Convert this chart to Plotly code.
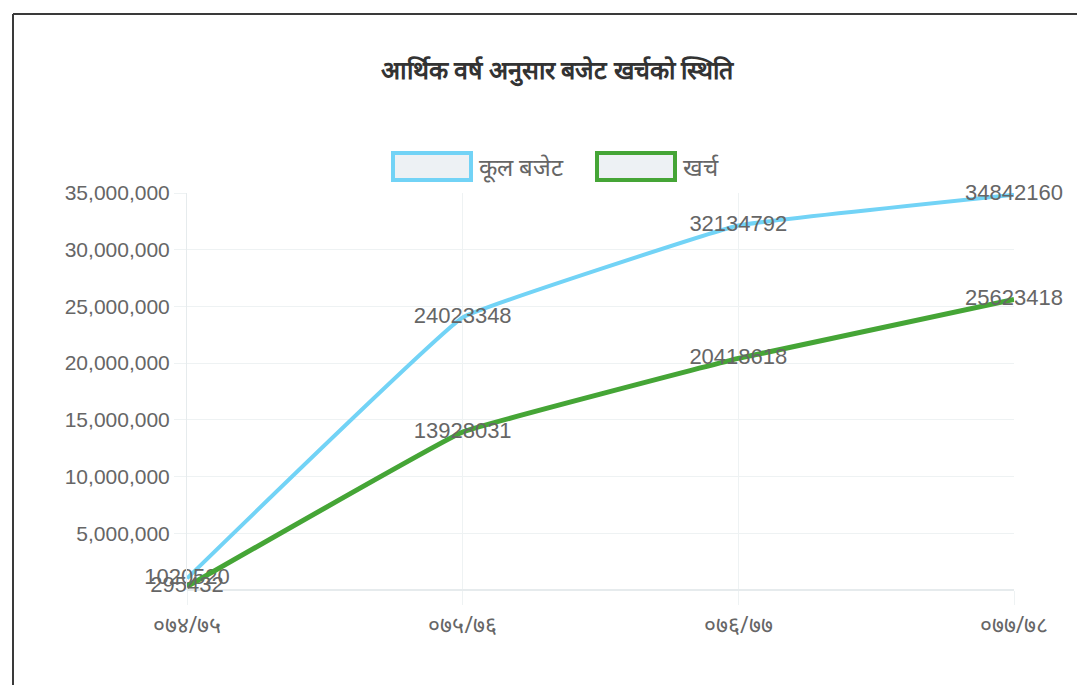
import plotly.graph_objects as go

# आर्थिक वर्ष (fiscal years)
years = ['०७४/७५', '०७५/७६', '०७६/७७', '०७७/७८']
budget = [1020520, 24023348, 32134792, 34842160]
expense = [295432, 13928031, 20418618, 25623418]
y_ticks = [5000000, 10000000, 15000000, 20000000, 25000000, 30000000, 35000000]

blue = '#72d3f6'
green = '#45a536'
grey = '#666666'

# the page puts the figure 8px in from the corner (body margin)
OFF = 8

fig = go.Figure()
fig.add_trace(go.Scatter(x=years, y=budget, name='कूल बजेट',
                         mode='lines+text', text=[str(v) for v in budget],
                         textposition='middle center', cliponaxis=False,
                         textfont=dict(size=22, color=grey, family='Liberation Sans'),
                         line=dict(color=blue, width=4, shape='spline', smoothing=0.2),
                         showlegend=False))
fig.add_trace(go.Scatter(x=years, y=expense, name='खर्च',
                         mode='lines+text', text=[str(v) for v in expense],
                         textposition='middle center', cliponaxis=False,
                         textfont=dict(size=22, color=grey, family='Liberation Sans'),
                         line=dict(color=green, width=5, shape='spline', smoothing=0.2),
                         showlegend=False))

# legend drawn as boxes like the original chart
legend_items = [('कूल बजेट', blue, 393), ('खर्च', green, 597)]
for label, col, px0 in legend_items:
    fig.add_shape(type='rect', xref='paper', yref='paper',
                  x0=(px0 - 187) / 827, x1=(px0 + 78 - 187) / 827,
                  y0=(590 - 180) / 397, y1=(590 - 153) / 397,
                  line=dict(color=col, width=4), fillcolor='rgba(225,232,236,0.6)')
    fig.add_annotation(xref='paper', yref='paper', x=(px0 + 84 - 187) / 827,
                       y=(590 - 166) / 397, text=label, showarrow=False,
                       xanchor='left', yanchor='middle',
                       font=dict(size=24, color=grey))

# outer frame of the scanned page
fig.add_shape(type='line', xref='paper', yref='paper',
              x0=(13 - 187) / 827, x1=(13 - 187) / 827,
              y0=-0.3, y1=(590 - 14) / 397, line=dict(color='#3a3a3a', width=2))
fig.add_shape(type='line', xref='paper', yref='paper',
              x0=(13 - 187) / 827, x1=1.2,
              y0=(590 - 14) / 397, y1=(590 - 14) / 397, line=dict(color='#3a3a3a', width=2))

fig.update_layout(
    width=1085, height=685,
    margin=dict(l=187 - OFF, r=1085 - 1014 + OFF, t=193 - OFF, b=685 - 590 + OFF),
    paper_bgcolor='white', plot_bgcolor='white',
    title=dict(text='<b>आर्थिक वर्ष अनुसार बजेट खर्चको स्थिति</b>',
               x=(557 - OFF) / 1085, xanchor='center', y=1 - (70 - OFF) / 685,
               yanchor='middle', font=dict(size=25, color='#333333')),
)
fig.update_xaxes(range=[0, 3], showgrid=True, gridcolor='#eef2f3', gridwidth=1,
                 showline=False, zeroline=False, ticks='outside', ticklen=14,
                 tickcolor='#eef2f3', tickfont=dict(size=23, color=grey))
fig.update_yaxes(range=[0, 35000000], tickvals=y_ticks, tickformat=',d',
                 showgrid=True, gridcolor='#eef2f3', gridwidth=1,
                 showline=True, linecolor='#e6ebed', zeroline=True,
                 zerolinecolor='#e6ebed', ticks='outside', ticklen=12,
                 tickcolor='#eef2f3',
                 tickfont=dict(size=21, color=grey, family='Liberation Sans'))

fig.write_html("out.html")
